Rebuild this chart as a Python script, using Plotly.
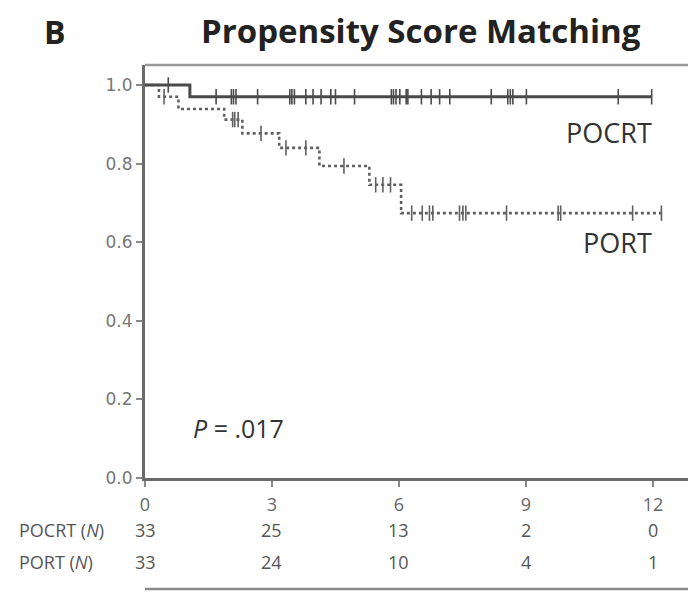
import plotly.graph_objects as go

# ---- data ----
pocrt_event_times = [1.06]
pocrt_surv = [0.970]
pocrt_end = 11.97
pocrt_censor = [0.55, 1.68, 2.04, 2.09, 2.15, 2.66, 3.42, 3.47, 3.53, 3.80, 3.97,
                4.16, 4.39, 4.50, 4.95, 5.82, 5.87, 5.93, 6.02, 6.17, 6.21, 6.53,
                6.76, 6.96, 7.20, 8.18, 8.57, 8.63, 8.69, 9.01, 11.18, 11.97]

port_event_times = [0.33, 0.79, 1.87, 2.30, 3.17, 4.12, 5.30, 6.05]
port_surv = [0.970, 0.939, 0.912, 0.877, 0.840, 0.794, 0.746, 0.674]
port_end = 12.2
port_censor = [0.45, 2.07, 2.12, 2.20, 2.74, 3.33, 3.80, 4.70, 5.45, 5.62, 5.80,
               6.30, 6.55, 6.72, 6.80, 7.43, 7.51, 7.58, 8.54, 9.76, 9.82, 11.52, 12.2]

x_ticks = [0, 3, 6, 9, 12]
y_ticks = [0.0, 0.2, 0.4, 0.6, 0.8, 1.0]
risk_pocrt = [33, 25, 13, 2, 0]
risk_port = [33, 24, 10, 4, 1]
group_labels = ["POCRT", "PORT"]
p_value = ".017"


def step_xy(times, vals, end):
    xs = [0] + list(times) + [end]
    ys = [1.0] + list(vals) + [vals[-1]]
    return xs, ys


def surv_at(t, times, vals):
    s = 1.0
    for tt, v in zip(times, vals):
        if t >= tt:
            s = v
    return s


# page layout (the page body adds an 8px offset)
W, H = 688, 584
L, R, T, B = 137, 0, 57, 114
pw, ph = W - L - R, H - T - B
X0, Y1 = 8 + L, 8 + H - B  # page pixel of plot left / bottom


def pxx(X):
    return (X - X0) / pw


def pxy(Y):
    return (Y1 - Y) / ph


fig = go.Figure()

c_pocrt = "#4a4a4a"
c_port = "#606060"

# PORT (dotted)
px, py = step_xy(port_event_times, port_surv, port_end)
fig.add_trace(go.Scatter(x=px, y=py, mode="lines", line=dict(shape="hv", color=c_port, width=2.6, dash="dot"),
                         showlegend=False, hoverinfo="skip"))
fig.add_trace(go.Scatter(x=port_censor, y=[surv_at(t, port_event_times, port_surv) for t in port_censor],
                         mode="markers", marker=dict(symbol="line-ns", size=11, line=dict(color=c_port, width=1.6)),
                         showlegend=False, hoverinfo="skip"))

# POCRT (solid)
qx, qy = step_xy(pocrt_event_times, pocrt_surv, pocrt_end)
fig.add_trace(go.Scatter(x=qx, y=qy, mode="lines", line=dict(shape="hv", color=c_pocrt, width=3),
                         showlegend=False, hoverinfo="skip"))
fig.add_trace(go.Scatter(x=pocrt_censor, y=[surv_at(t, pocrt_event_times, pocrt_surv) for t in pocrt_censor],
                         mode="markers", marker=dict(symbol="line-ns", size=11, line=dict(color=c_pocrt, width=1.6)),
                         showlegend=False, hoverinfo="skip"))

annotations = []
annotations.append(dict(text="<b>B</b>", x=pxx(55), y=pxy(31), xref="paper", yref="paper", showarrow=False,
                        xanchor="center", yanchor="middle",
                        font=dict(family="Open Sans", size=32, color="#222")))
annotations.append(dict(text="<b>Propensity Score Matching</b>", x=pxx(421), y=pxy(30), xref="paper", yref="paper",
                        showarrow=False, xanchor="center", yanchor="middle",
                        font=dict(family="Open Sans", size=33, color="#222")))
# Group labels
annotations.append(dict(text=group_labels[0], x=pxx(654), y=pxy(132), xref="paper", yref="paper",
                        xanchor="right", yanchor="middle", showarrow=False,
                        font=dict(family="Open Sans", size=27, color="#333")))
annotations.append(dict(text=group_labels[1], x=pxx(654), y=pxy(243), xref="paper", yref="paper",
                        xanchor="right", yanchor="middle", showarrow=False,
                        font=dict(family="Open Sans", size=27, color="#333")))
# P value
annotations.append(dict(text="<i>P</i> = " + p_value, x=pxx(191), y=pxy(428), xref="paper", yref="paper",
                        xanchor="left", yanchor="middle", showarrow=False,
                        font=dict(family="Open Sans", size=25, color="#333")))
# Risk table
row_y = [pxy(530), pxy(562)]
row_names = ["POCRT (<i>N</i>)", "PORT (<i>N</i>)"]
for ry, name, vals in zip(row_y, row_names, [risk_pocrt, risk_port]):
    annotations.append(dict(text=name, x=pxx(17), y=ry, xref="paper", yref="paper", xanchor="left",
                            yanchor="middle", showarrow=False,
                            font=dict(family="Open Sans", size=18, color="#555")))
    for xt, v in zip(x_ticks, vals):
        annotations.append(dict(text=str(v), x=xt, y=ry, xref="x", yref="paper", xanchor="center",
                                yanchor="middle", showarrow=False,
                                font=dict(family="Open Sans", size=18, color="#555")))

shapes = [
    dict(type="line", xref="paper", yref="paper", x0=0, x1=1.02, y0=1, y1=1,
         line=dict(color="#9a9a9a", width=2.5)),
    dict(type="line", xref="paper", yref="paper", x0=pxx(145), x1=1.02, y0=pxy(589), y1=pxy(589),
         line=dict(color="#8a8a8a", width=2.5)),
]

fig.update_layout(
    width=W, height=H,
    margin=dict(l=L, r=R, t=T, b=B),
    paper_bgcolor="white", plot_bgcolor="white",
    annotations=annotations, shapes=shapes,
    xaxis=dict(range=[0, pw / 42.33], tickvals=x_ticks, ticktext=[str(v) for v in x_ticks],
               showgrid=False, zeroline=False, showline=True, linecolor="#6a6a6a", linewidth=3,
               ticks="outside", ticklen=6, tickwidth=1.5, tickcolor="#888", ticklabelstandoff=2,
               tickfont=dict(family="Open Sans", size=18, color="#666")),
    yaxis=dict(range=[0, ph / 393], tickvals=y_ticks, ticktext=["%.1f" % v for v in y_ticks],
               showgrid=False, zeroline=False, showline=True, linecolor="#6a6a6a", linewidth=3,
               ticks="outside", ticklen=6, tickwidth=1.5, tickcolor="#888",
               tickfont=dict(family="DejaVu Sans", size=17, color="#777")),
)

fig.write_html("out.html")
